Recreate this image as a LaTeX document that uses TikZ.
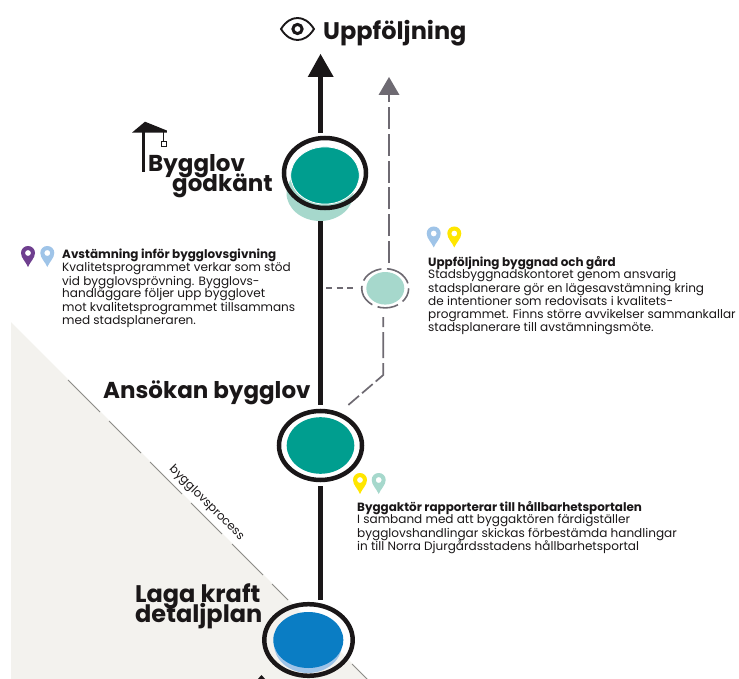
\documentclass[tikz,border=0pt]{standalone}
\usepackage{fontspec}
\setmainfont{Poppins}
\definecolor{ink}{HTML}{1A1718}
\definecolor{dgray}{HTML}{6E6A72}
\definecolor{lgray}{HTML}{8C8C88}
\definecolor{beige}{HTML}{F3F2EE}
\definecolor{teal1}{HTML}{009E8F}
\definecolor{teal2}{HTML}{A6D8CC}
\definecolor{blue1}{HTML}{0A7DC4}
\definecolor{blue2}{HTML}{9FC4E8}
\definecolor{purp}{HTML}{6F3F8F}
\definecolor{yell}{HTML}{FFE600}
\tikzset{
  x=1pt,y=-1pt,
  mainline/.style={draw=ink,line width=4.5pt},
  ring/.style={draw=ink,line width=4.5pt},
  gline/.style={draw=dgray,line width=1.7pt},
  head/.style={inner sep=0pt,anchor=base west,text=ink,font=\bfseries\fontsize{24}{24}\selectfont},
  heads/.style={head,font=\bfseries\fontsize{23}{23}\selectfont},
  body/.style={inner sep=0pt,anchor=base west,text=ink,font=\fontsize{12.05}{12.05}\selectfont},
  bodyb/.style={inner sep=0pt,anchor=base west,text=ink,font=\bfseries\fontsize{11.95}{11.95}\selectfont},
  pin/.pic={
    \fill[pic actions,even odd rule] (0,21) .. controls (-2,16) and (-7,12) .. (-7,7) .. controls (-7,3) and (-4,0) .. (0,0) .. controls (4,0) and (7,3) .. (7,7) .. controls (7,12) and (2,16) .. (0,21) -- cycle (0,7) circle[radius=3];
  }
}
\begin{document}
\begin{tikzpicture}
\useasboundingbox (0,0) rectangle (739,679);
\clip (0,0) rectangle (739,679);
% beige ground
\fill[beige] (11,322) -- (368,679) -- (11,679) -- cycle;
\foreach \a/\b in {68/100,109/141,150/182,191/222,232/263,272/288,352/370}
  \draw[lgray,line width=0.8pt] (\a,\a+312) -- (\b,\b+312);
\node[rotate=-45,inner sep=0pt,text=ink,font=\fontsize{11.8}{11.8}\selectfont] (proc) at (206.5,503) {bygglovsprocess};
% main line
\coordinate (top) at (320.5,54);
\coordinate (topb) at (320.5,77);
\fill[ink] (top) -- (333.7,77) -- (307.7,77) -- cycle;
\path[mainline] (topb) -- (320.5,132.7);
\path[mainline] (320.5,215) -- (320.5,405);
\path[mainline] (320.5,486) -- (320.5,600);
% gray dashed
\fill[dgray] (389,77) -- (399.5,95) -- (378.5,95) -- cycle;
\path[gline,dash pattern=on 22pt off 4.8pt] (389,263) -- (389,95);
\path[gline,dash pattern=on 10pt off 5pt on 26pt off 5pt on 22pt off 4pt on 14pt off 4pt on 14pt off 4pt] (383.3,317) -- (383.3,375) -- (348.3,405);
\draw[dgray,line width=1.4pt,dash pattern=on 6pt off 4.5pt] (326,288) -- (357,288);
% upper node
\fill[teal2] (320,193) ellipse[x radius=33.5,y radius=28];
\fill[teal1,draw=white,line width=0.8pt] (325,175.5) ellipse[x radius=34.3,y radius=28.6];
\path[ring] (325,173) ellipse[x radius=41,y radius=35];
% middle small node
\fill[teal2] (385.3,288.3) ellipse[x radius=19,y radius=16.3];
\draw[dgray,line width=1.6pt,dash pattern=on 15pt off 5.6pt on 21pt off 5.6pt on 23pt off 5.6pt on 22pt off 5.6pt on 27pt off 5.6pt] (385.2,288.3) ellipse[x radius=23.5,y radius=19.6];
% Ansokan node
\fill[teal1] (320.5,445.5) ellipse[x radius=33.8,y radius=28.3];
\path[ring] (320.5,445.5) ellipse[x radius=41.5,y radius=34.5];
% Laga node
\fill[blue2] (308,644) ellipse[x radius=34,y radius=29];
\fill[blue1] (308.3,640) ellipse[x radius=35,y radius=28];
\path[ring] (308.5,640) ellipse[x radius=44.2,y radius=35.8];
\fill[ink] (261.5,675) -- (266,680) -- (257,680) -- cycle;
% eye
\draw[ink,line width=1.9pt] (281,29) .. controls (286,21) and (292,18) .. (297.5,18) .. controls (303,18) and (309,21) .. (314,29) .. controls (309,37) and (303,40) .. (297.5,40) .. controls (292,40) and (286,37) .. (281,29) -- cycle;
\draw[ink,line width=3pt] (297.5,29) circle[radius=4.6];
% crane
\draw[ink,line width=3pt] (143.5,128) -- (143.5,172);
\fill[ink] (132,132.6) -- (145,121.7) -- (166.8,130.5) -- (166.8,132.6) -- cycle;
\draw[ink,line width=0.5pt] (163.7,132) -- (163.7,141.5);
\draw[ink,line width=0.6pt,fill=white] (161.2,141.7) rectangle (166,146.8);
% headings
\node[head] (uppf) at (323,40) {Uppföljning};
\node[heads] (bg1) at (148,171.5) {Bygglov};
\node[heads] (bg2) at (172,192) {godkänt};
\node[heads] (ans) at (103,398) {Ansökan bygglov};
\node[head] (lk1) at (135,602) {Laga kraft};
\node[head] (lk2) at (135,622.5) {detaljplan};
% pins
\pic[fill=purp] at (28,246) {pin};
\pic[fill=blue2] at (47.3,246) {pin};
\pic[fill=blue2] at (433.7,226.5) {pin};
\pic[fill=yell] at (454.3,226.5) {pin};
\pic[fill=yell] at (360,473) {pin};
\pic[fill=teal2] at (378.7,473) {pin};
% left text
\node[bodyb] (a0) at (62,258.5) {Avstämning inför bygglovsgivning};
\node[body] (a1) at (62,271.7) {Kvalitetsprogrammet verkar som stöd};
\node[body] (a2) at (62,285) {vid bygglovsprövning. Bygglovs-};
\node[body] (a3) at (62,298) {handläggare följer upp bygglovet};
\node[body] (a4) at (62,311) {mot kvalitetsprogrammet tillsammans};
\node[body] (a5) at (62,324) {med stadsplaneraren.};
% right text
\node[bodyb] (b0) at (428,266) {Uppföljning byggnad och gård};
\node[body] (b1) at (428,278.5) {Stadsbyggnadskontoret genom ansvarig};
\node[body] (b2) at (428,292) {stadsplanerare gör en lägesavstämning kring};
\node[body] (b3) at (428,305) {de intentioner som redovisats i kvalitets-};
\node[body] (b4) at (428,318) {programmet. Finns större avvikelser sammankallar};
\node[body] (b5) at (428,331) {stadsplanerare till avstämningsmöte.};
% lower text
\node[bodyb] (c0) at (357,511) {Byggaktör rapporterar till hållbarhetsportalen};
\node[body] (c1) at (357,523.5) {I samband med att byggaktören färdigställer};
\node[body] (c2) at (357,537) {bygglovshandlingar skickas förbestämda handlingar};
\node[body] (c3) at (357,550) {in till Norra Djurgårdsstadens hållbarhetsportal};
\end{tikzpicture}
\end{document}
